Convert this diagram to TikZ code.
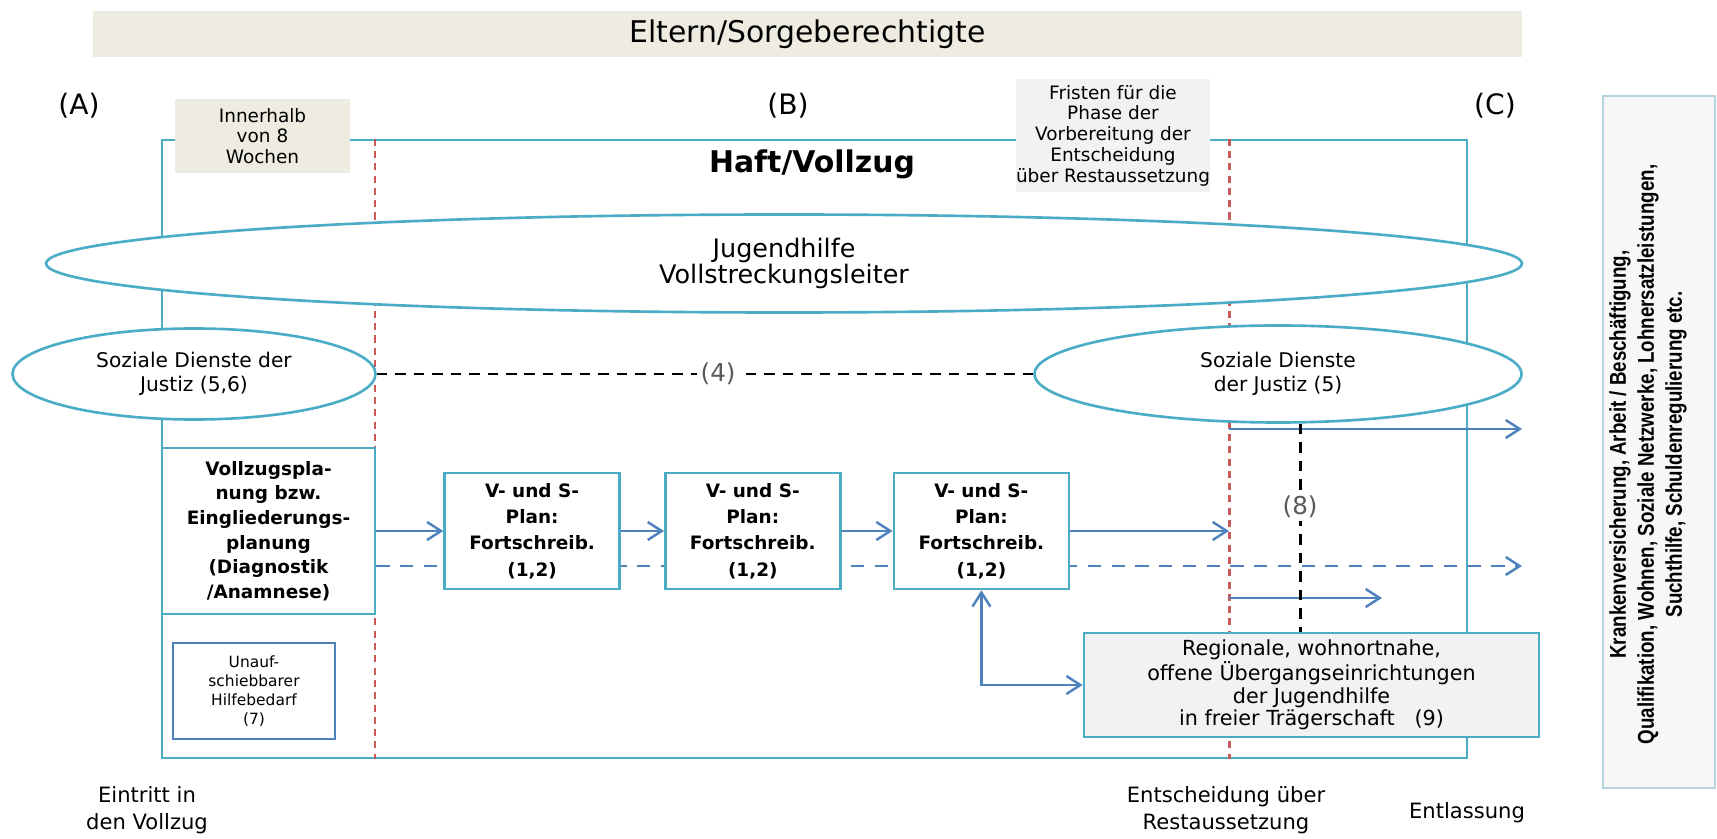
\documentclass[tikz,border=0pt]{standalone}
\usepackage{fontspec}
\setmainfont{DejaVu Sans}
\newfontfamily\narrowfont[FakeStretch=0.82]{Liberation Sans}
\usetikzlibrary{arrows.meta, positioning, shapes.geometric, backgrounds}
\definecolor{frameteal}{RGB}{75,172,198}
\definecolor{arrowblue}{RGB}{79,129,189}
\definecolor{phasered}{RGB}{200,90,90}
\definecolor{tanfill}{RGB}{238,236,225}
\definecolor{greyfill}{RGB}{242,242,242}
\definecolor{sidefill}{RGB}{247,247,247}
\definecolor{sideline}{RGB}{183,211,223}
\definecolor{labelgrey}{RGB}{89,89,89}

\begin{document}
\begin{tikzpicture}[
    notebox/.style={fill=tanfill, align=center, inner sep=0pt, font=\fontsize{10.5}{11.8}\selectfont},
    planbox/.style={draw=frameteal, line width=1.5pt, fill=white, align=center, inner sep=0pt, minimum width=3.5cm, minimum height=2.32cm, font=\bfseries\fontsize{10.5}{15}\selectfont},
    oval/.style={ellipse, draw=frameteal, line width=1.5pt, fill=white, inner sep=0pt, align=center, font=\fontsize{11.5}{13.5}\selectfont},
    flow/.style={-{Straight Barb[length=2.8mm, width=3.6mm]}, draw=arrowblue, line width=1.4pt},
    flowdash/.style={flow, dash pattern=on 7.5pt off 6pt},
    flowboth/.style={flow, {Straight Barb[length=2.8mm, width=3.6mm]}-{Straight Barb[length=2.8mm, width=3.6mm]}},
    phaseline/.style={draw=phasered, line width=1.7pt, dash pattern=on 4pt off 3pt},
    justizlink/.style={draw=black, line width=1.7pt, dash pattern=on 6pt off 4.5pt},
    numtag/.style={fill=white, text=labelgrey, inner sep=2pt, font=\fontsize{14}{16}\selectfont},
    phasetag/.style={font=\fontsize{16}{18}\selectfont},
    stamp/.style={align=center, font=\fontsize{12}{15.4}\selectfont}
]
\useasboundingbox (0,0) rectangle (34.34,16.76);

% Parents
\node[fill=tanfill, minimum width=28.58cm, minimum height=0.92cm, inner sep=0pt, font=\fontsize{17}{19}\selectfont] (eltern) at (16.15,16.08) {Eltern/Sorgeberechtigte};

% Phases
\node[phasetag] (phaseA) at (1.58,14.64) {(A)};
\node[phasetag] (phaseB) at (15.76,14.64) {(B)};
\node[phasetag] (phaseC) at (29.9,14.64) {(C)};

% Prison frame with phase borders
\node[draw=frameteal, line width=1.5pt, minimum width=26.1cm, minimum height=12.36cm, inner sep=0pt] (haft) at (16.29,7.78) {};
\coordinate (entrycut) at (7.5,0);
\coordinate (decisioncut) at (24.58,0);
\draw[phaseline] (haft.north -| entrycut) -- (haft.south -| entrycut);
\draw[phaseline] (haft.north -| decisioncut) -- (haft.south -| decisioncut);

% Deadlines
\node[notebox, minimum width=3.5cm, minimum height=1.48cm] (frist8) at (5.25,14.04) {Innerhalb\\von 8\\Wochen};
\node[notebox, fill=greyfill, minimum width=3.88cm, minimum height=2.26cm] (fristrest) at (22.26,14.05) {Fristen für die\\Phase der\\Vorbereitung der\\Entscheidung\\über Restaussetzung};

\node[font=\bfseries\fontsize{17}{19}\selectfont] (title) at (16.24,13.48) {Haft/Vollzug};

% Services
\node[oval, minimum width=29.52cm, minimum height=1.96cm, font=\fontsize{14.5}{15}\selectfont] (jugend) at (15.68,11.49) {Jugendhilfe\\Vollstreckungsleiter};
\node[oval, minimum width=7.26cm, minimum height=1.82cm] (sozL) at (3.88,9.28) {Soziale Dienste der\\Justiz (5,6)};
\node[oval, minimum width=9.74cm, minimum height=1.94cm] (sozR) at (25.56,9.28) {Soziale Dienste\\der Justiz (5)};

% Planning chain
\node[planbox, minimum width=4.26cm, minimum height=3.32cm, font=\bfseries\fontsize{10.5}{14}\selectfont] (vplan) at (5.37,6.14) {Vollzugspla-\\nung bzw.\\Eingliederungs-\\planung\\(Diagnostik\\/Anamnese)};
\node[planbox, right=1.34cm of vplan] (fort1) {V- und S-\\Plan:\\Fortschreib.\\(1,2)};
\node[planbox, right=0.86cm of fort1] (fort2) {V- und S-\\Plan:\\Fortschreib.\\(1,2)};
\node[planbox, right=1.02cm of fort2] (fort3) {V- und S-\\Plan:\\Fortschreib.\\(1,2)};

\node[draw=arrowblue, line width=1.4pt, fill=white, align=center, inner sep=0pt, minimum width=3.24cm, minimum height=1.92cm, font=\fontsize{8.8}{10.8}\selectfont] (hilfe) at (5.08,2.94) {Unauf-\\schiebbarer\\Hilfebedarf\\(7)};

\node[draw=frameteal, line width=1.5pt, fill=greyfill, align=center, inner sep=0pt, minimum width=9.1cm, minimum height=2.08cm, font=\fontsize{11.8}{12.8}\selectfont] (regio) at (26.23,3.06) {Regionale, wohnortnahe,\\offene Übergangseinrichtungen\\der Jugendhilfe\\in freier Trägerschaft \ \ (9)};

% Outside
\node[rotate=90, draw=sideline, line width=1pt, fill=sidefill, inner sep=0pt, minimum width=13.84cm, minimum height=2.24cm] (extern) at (33.18,7.92) {};
\node[rotate=90, align=center, inner sep=0pt, font=\narrowfont\bfseries\fontsize{13}{16}\selectfont] (externtext) at ([xshift=-0.22cm, yshift=-0.25cm]extern.center) {Krankenversicherung, Arbeit / Beschäftigung,\\Qualifikation, Wohnen, Soziale Netzwerke, Lohnersatzleistungen,\\Suchthilfe, Schuldenregulierung etc.};

% Milestones
\node[stamp] (eintritt) at (2.94,0.55) {Eintritt in\\den Vollzug};
\node[stamp] (entscheid) at (24.52,0.55) {Entscheidung über\\Restaussetzung};
\node[stamp] (entlass) at (29.34,0.5) {Entlassung};

% Arrows
\coordinate (outtop) at (30.44,8.18);
\coordinate (outdash) at (30.44,5.44);
\coordinate (outlow) at (27.64,4.8);
\begin{scope}[on background layer]
\draw[flowdash] (vplan.east |- outdash) -- (outdash);
\end{scope}
\draw[flow] (vplan) -- (fort1);
\draw[flow] (fort1) -- (fort2);
\draw[flow] (fort2) -- (fort3);
\draw[flow] (fort3.east) -- (fort3.east -| decisioncut);
\draw[flow] (outtop -| decisioncut) -- (outtop);
\draw[flow] (outlow -| decisioncut) -- (outlow);
\draw[flowboth] (fort3.south) |- (regio.west);

% Justice links
\draw[justizlink] (sozL.east) -- node[numtag, pos=0.52] {(4)} (sozR.west);
\draw[justizlink] (sozR.-66.5) -- node[numtag, pos=0.4] {(8)} (sozR.-66.5 |- regio.north);

\end{tikzpicture}
\end{document}
